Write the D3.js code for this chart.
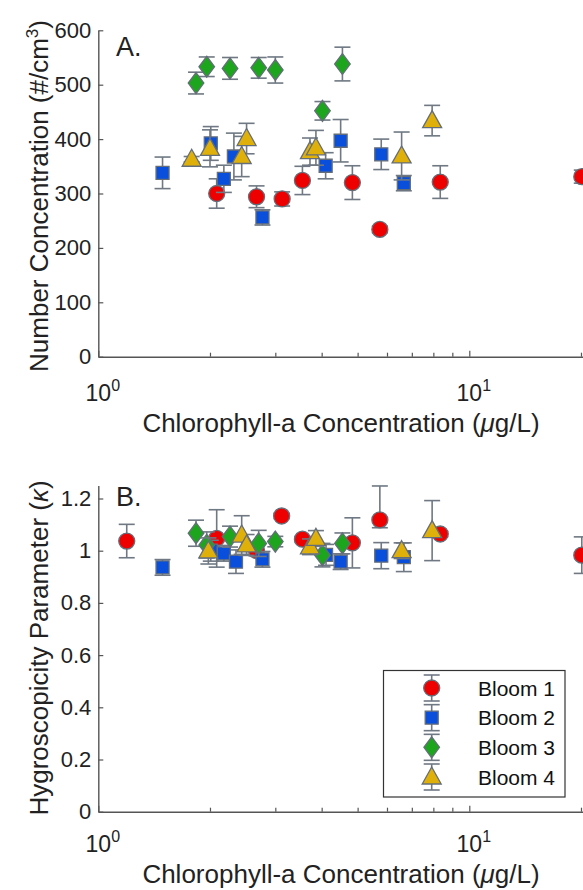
<!DOCTYPE html>
<html>
<head>
<meta charset="utf-8">
<script src="https://cdn.jsdelivr.net/npm/d3@7"></script>
<style>
  body { margin: 0; background: #fff; }
  svg { display: block; font-family: "Liberation Sans", Arial, sans-serif; }
</style>
</head>
<body>
<svg id="chart" width="583" height="890"></svg>
<script>
// panel A: number concentration (#/cm3)
const a1x = [2.085, 2.67, 3.13, 3.55, 4.84, 5.74, 8.35, 20.1];
const a1y = [300, 294, 290, 324, 320, 234, 321, 331];
const a1e = [27, 20, 13, 26, 31, 6, 30, 12];
const a2x = [1.49, 2.01, 2.18, 2.32, 2.77, 4.10, 4.50, 5.79, 6.66];
const a2y = [338, 392, 327, 368, 256, 351, 397, 372, 319];
const a2e = [29, 31, 25, 43, 14, 24, 39, 28, 14];
const a3x = [1.834, 1.96, 2.265, 2.706, 3.0, 4.02, 4.55];
const a3y = [503, 533, 530, 531, 527, 452, 538];
const a3e = [20, 18, 20, 19, 24, 17, 31];
const a4x = [1.785, 2.0, 2.435, 2.51, 3.72, 3.86, 6.57, 7.94];
const a4y = [363, 383, 368, 401, 377, 384, 369, 434];
const a4e = [5, 34, 37, 28, 25, 32, 44, 28];

// panel B: hygroscopicity parameter (kappa)
const b1x = [1.193, 2.085, 2.67, 3.12, 3.55, 4.84, 5.74, 8.35, 20.1];
const b1y = [1.037, 1.047, 1.0, 1.133, 1.044, 1.03, 1.118, 1.064, 0.983];
const b1e = [0.064, 0.11, 0.02, 0.01, 0.01, 0.096, 0.13, 0.01, 0.07];
const b1eLo = [0.064, 0.11, 0.02, 0.01, 0.01, 0.096, 0.03, 0.01, 0.07];
const b2x = [1.49, 2.01, 2.18, 2.35, 2.77, 4.11, 4.50, 5.79, 6.66];
const b2y = [0.936, 1.0, 0.99, 0.958, 0.967, 0.984, 0.958, 0.981, 0.975];
const b2e = [0.03, 0.04, 0.03, 0.045, 0.03, 0.04, 0.03, 0.05, 0.055];
const b3x = [1.834, 1.96, 2.265, 2.706, 3.0, 4.02, 4.55];
const b3y = [1.067, 1.022, 1.054, 1.028, 1.035, 0.983, 1.028];
const b3e = [0.05, 0.05, 0.04, 0.05, 0.02, 0.045, 0.04];
const b4x = [1.98, 2.435, 2.51, 3.72, 3.86, 6.57, 7.94];
const b4y = [0.999, 1.06, 1.022, 1.015, 1.047, 1.0, 1.077];
const b4e = [0.05, 0.074, 0.04, 0.03, 0.03, 0.03, 0.115];

const blooms = ["Bloom 1", "Bloom 2", "Bloom 3", "Bloom 4"];
const yTicksA = [0, 100, 200, 300, 400, 500, 600];
const yTicksB = [0, 0.2, 0.4, 0.6, 0.8, 1, 1.2];
const xLabelTicks = [1, 10];

const colors = ["#ee0000", "#0a4fdc", "#1ea51e", "#e0b00a"];
const shapes = ["circle", "square", "diamond", "triangle"];
const edge = "#646e79";
const barColor = "#6f7883";
const axisColor = "#555";

const zip = (xs, ys, es, lo) => xs.map((x, i) => ({x: x, y: ys[i], hi: es[i], lo: lo ? lo[i] : es[i]}));

const seriesA = [zip(a1x, a1y, a1e), zip(a2x, a2y, a2e), zip(a3x, a3y, a3e), zip(a4x, a4y, a4e)];
const seriesB = [zip(b1x, b1y, b1e, b1eLo), zip(b2x, b2y, b2e), zip(b3x, b3y, b3e), zip(b4x, b4y, b4e)];

const svg = d3.select("#chart");

function markerPath(shape) {
  if (shape === "circle") return d3.symbol(d3.symbolCircle, Math.PI * 8 * 8)();
  if (shape === "square") return "M-6.5,-6.5H6.5V6.5H-6.5Z";
  if (shape === "diamond") return "M0,-10.5L7.8,0L0,10.5L-7.8,0Z";
  return "M0,-10L9.5,7H-9.5Z";
}

function panel(opts) {
  const x = d3.scaleLog().domain([1, 100]).range([98.3, 98.3 + 2 * 371]);
  const y = d3.scaleLinear().domain(opts.ydomain).range(opts.yrange);

  const g = svg.append("g");

  // x axis with inward log ticks
  const xt = [];
  for (let d = 1; d <= 100; d *= 10) for (let m = 1; m <= 9; m++) if (m * d <= 100) xt.push(m * d);
  const xAxis = g.append("g")
    .attr("transform", `translate(0,${opts.yrange[0]})`)
    .call(d3.axisBottom(x).tickValues(xt).tickSize(-4).tickSizeOuter(0).tickFormat(""));
  xAxis.selectAll(".tick text").remove();
  xAxis.select(".domain").attr("stroke", axisColor).attr("stroke-width", 1.4);
  xAxis.selectAll(".tick line").attr("stroke", axisColor).attr("stroke-width", 1.2)
    .attr("y2", d => Math.log10(d) % 1 === 0 ? -6 : -4);
  xAxis.selectAll(".tick").filter(d => xLabelTicks.includes(d)).each(function(d) {
    const t = d3.select(this).append("text")
      .attr("y", opts.xlabOff).attr("fill", "#222").attr("font-size", 23)
      .attr("text-anchor", "middle").attr("dx", 4);
    t.append("tspan").text("10");
    t.append("tspan").attr("dy", -10).attr("font-size", 16).text(Math.round(Math.log10(d)));
  });

  // y axis
  const yAxis = g.append("g")
    .attr("transform", "translate(98.3,0)")
    .call(d3.axisLeft(y).tickValues(opts.yticks).tickSize(-5).tickSizeOuter(0).tickPadding(7)
      .tickFormat(d3.format("~g")));
  yAxis.select(".domain").attr("stroke", axisColor).attr("stroke-width", 1.4);
  yAxis.selectAll(".tick line").attr("stroke", axisColor).attr("stroke-width", 1.2);
  yAxis.selectAll(".tick text").attr("fill", "#222").attr("font-size", 22)
    .attr("font-family", "Liberation Sans, Arial, sans-serif");

  // titles
  const xt2 = g.append("text").attr("x", 341).attr("y", opts.yrange[0] + opts.xtitleOff)
    .attr("text-anchor", "middle").attr("font-size", 26).attr("fill", "#222");
  xt2.append("tspan").text("Chlorophyll-a Concentration (");
  xt2.append("tspan").attr("font-style", "italic").text("\u03bc");
  xt2.append("tspan").text("g/L)");

  const yt = g.append("text")
    .attr("transform", `translate(48,${opts.ytitleY}) rotate(-90)`)
    .attr("text-anchor", "middle").attr("font-size", 26).attr("fill", "#222");
  opts.ytitle(yt);

  g.append("text").attr("x", 116).attr("y", opts.letterY)
    .attr("font-size", 27).attr("fill", "#222").text(opts.letter);

  // series: error bars then markers, bloom by bloom
  opts.series.forEach((data, k) => {
    const s = g.append("g");
    const bars = s.selectAll("g.bar").data(data).enter().append("g").attr("class", "bar")
      .attr("stroke", barColor).attr("stroke-width", 1.6);
    bars.append("line")
      .attr("x1", d => x(d.x)).attr("x2", d => x(d.x))
      .attr("y1", d => y(d.y - d.lo)).attr("y2", d => y(d.y + d.hi));
    bars.append("line")
      .attr("x1", d => x(d.x) - 8).attr("x2", d => x(d.x) + 8)
      .attr("y1", d => y(d.y + d.hi)).attr("y2", d => y(d.y + d.hi));
    bars.append("line")
      .attr("x1", d => x(d.x) - 8).attr("x2", d => x(d.x) + 8)
      .attr("y1", d => y(d.y - d.lo)).attr("y2", d => y(d.y - d.lo));
    s.selectAll("path.mk").data(data).enter().append("path").attr("class", "mk")
      .attr("d", markerPath(shapes[k]))
      .attr("transform", d => `translate(${x(d.x)},${y(d.y)})`)
      .attr("fill", colors[k]).attr("stroke", edge).attr("stroke-width", 1.3);
  });
}

panel({
  ydomain: [0, 600], yrange: [356.7, 30.3], yticks: yTicksA,
  xlabOff: 44, xtitleOff: 75, ytitleY: 196, letter: "A.", letterY: 56,
  series: seriesA,
  ytitle: t => {
    t.append("tspan").text("Number Concentration (#/cm");
    t.append("tspan").attr("dy", -10).attr("font-size", 17).text("3");
    t.append("tspan").attr("dy", 10).text(")");
  }
});

panel({
  ydomain: [0, 1.25], yrange: [811.7, 811.7 - 1.25 * 261], yticks: yTicksB,
  xlabOff: 40, xtitleOff: 71, ytitleY: 648, letter: "B.", letterY: 506,
  series: seriesB,
  ytitle: t => {
    t.append("tspan").text("Hygroscopicity Parameter (");
    t.append("tspan").attr("font-style", "italic").text("\u03ba");
    t.append("tspan").text(")");
  }
});

// legend
const leg = svg.append("g");
leg.append("rect").attr("x", 383.5).attr("y", 670.5).attr("width", 181.5).attr("height", 126.5)
  .attr("fill", "#fff").attr("stroke", "#333").attr("stroke-width", 1.2);
const legY = d3.scalePoint().domain(blooms).range([688, 777]);
blooms.forEach((name, k) => {
  const cy = legY(name);
  const e = leg.append("g").attr("stroke", barColor).attr("stroke-width", 1.6);
  e.append("line").attr("x1", 431.7).attr("x2", 431.7).attr("y1", cy - 13).attr("y2", cy + 13);
  e.append("line").attr("x1", 423.7).attr("x2", 439.7).attr("y1", cy - 13).attr("y2", cy - 13);
  e.append("line").attr("x1", 423.7).attr("x2", 439.7).attr("y1", cy + 13).attr("y2", cy + 13);
  leg.append("path").attr("d", markerPath(shapes[k]))
    .attr("transform", `translate(431.7,${cy})`)
    .attr("fill", colors[k]).attr("stroke", edge).attr("stroke-width", 1.3);
  leg.append("text").attr("x", 478).attr("y", cy + 7.5).attr("font-size", 21).attr("fill", "#111").text(name);
});
</script>
</body>
</html>
